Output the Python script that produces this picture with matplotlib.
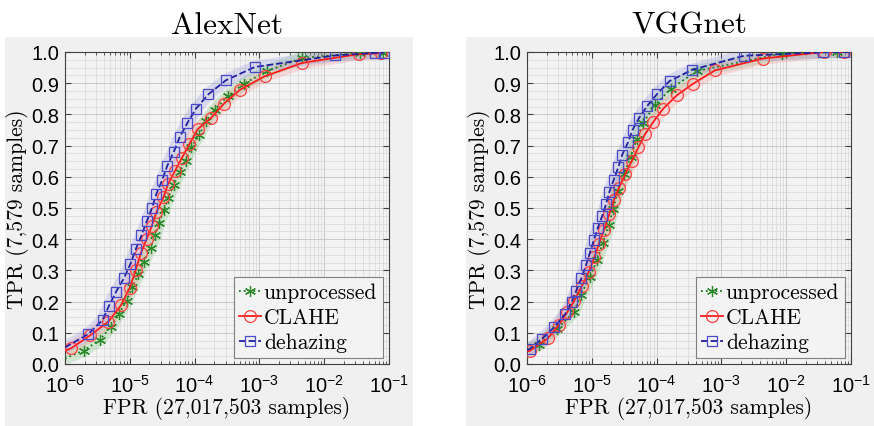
import matplotlib
matplotlib.use('Agg')
import matplotlib.pyplot as plt
from matplotlib.patches import Rectangle
from matplotlib.ticker import LogLocator, MultipleLocator, FixedLocator, NullFormatter

# ---- data (FPR as powers of ten exponent, TPR) ----
alex_unproc_exp = [-6.00, -5.71, -5.46, -5.29, -5.17, -5.05, -4.96, -4.87, -4.78, -4.68, -4.61, -4.55,
                   -4.47, -4.41, -4.32, -4.23, -4.14, -4.05, -3.93, -3.83, -3.69, -3.49, -3.24, -2.89,
                   -2.34, -1.45, -1.10]
alex_unproc_tpr = [0.018, 0.043, 0.078, 0.120, 0.160, 0.203, 0.246, 0.287, 0.328, 0.371, 0.412, 0.452,
                   0.492, 0.532, 0.574, 0.615, 0.652, 0.695, 0.733, 0.778, 0.815, 0.858, 0.898, 0.938,
                   0.981, 0.997, 0.998]
alex_clahe_exp = [-6.00, -5.91, -5.61, -5.33, -5.13, -5.00, -4.91, -4.83, -4.74, -4.66, -4.59, -4.48,
                  -4.41, -4.30, -4.20, -4.08, -3.95, -3.74, -3.55, -3.30, -2.92, -2.34, -1.47, -1.12]
alex_clahe_tpr = [0.043, 0.050, 0.092, 0.136, 0.190, 0.245, 0.300, 0.355, 0.400, 0.443, 0.486, 0.534,
                  0.577, 0.620, 0.659, 0.705, 0.753, 0.790, 0.834, 0.879, 0.922, 0.965, 0.993, 0.996]
alex_dehaze_exp = [-6.00, -5.64, -5.42, -5.32, -5.21, -5.09, -4.99, -4.91, -4.82, -4.74, -4.66, -4.59,
                   -4.50, -4.42, -4.32, -4.23, -4.11, -3.98, -3.79, -3.52, -3.07, -1.83, -1.22, -1.08]
alex_dehaze_tpr = [0.053, 0.096, 0.141, 0.187, 0.232, 0.275, 0.321, 0.367, 0.412, 0.457, 0.499, 0.545,
                   0.590, 0.636, 0.681, 0.727, 0.773, 0.818, 0.864, 0.909, 0.952, 0.989, 0.997, 0.998]

vgg_unproc_exp = [-6.00, -5.82, -5.54, -5.28, -5.17, -5.03, -4.92, -4.83, -4.74, -4.67, -4.60, -4.50,
                  -4.40, -4.30, -4.21, -4.03, -3.78, -3.38, -2.07, -1.22, -1.00]
vgg_unproc_tpr = [0.046, 0.062, 0.112, 0.166, 0.221, 0.278, 0.332, 0.388, 0.444, 0.497, 0.553, 0.610,
                  0.665, 0.722, 0.772, 0.829, 0.882, 0.939, 0.995, 1.000, 1.000]
vgg_clahe_exp = [-6.00, -5.95, -5.68, -5.51, -5.38, -5.27, -5.15, -5.05, -4.96, -4.89, -4.81, -4.73,
                 -4.66, -4.58, -4.48, -4.38, -4.28, -4.18, -4.05, -3.90, -3.69, -3.44, -3.10, -2.36,
                 -1.42, -1.11, -1.00]
vgg_clahe_tpr = [0.040, 0.043, 0.082, 0.125, 0.166, 0.203, 0.251, 0.294, 0.342, 0.385, 0.430, 0.480,
                 0.525, 0.565, 0.610, 0.652, 0.695, 0.736, 0.776, 0.818, 0.861, 0.898, 0.941, 0.979,
                 1.000, 1.000, 1.000]
vgg_dehaze_exp = [-6.00, -5.96, -5.77, -5.58, -5.41, -5.31, -5.24, -5.16, -5.09, -5.03, -4.97, -4.91,
                  -4.84, -4.78, -4.73, -4.66, -4.59, -4.53, -4.44, -4.37, -4.27, -4.15, -3.99, -3.80,
                  -3.45, -2.65, -1.43, -1.11, -1.00]
vgg_dehaze_tpr = [0.045, 0.048, 0.080, 0.118, 0.160, 0.200, 0.235, 0.275, 0.316, 0.356, 0.396, 0.435,
                  0.474, 0.513, 0.551, 0.591, 0.631, 0.671, 0.711, 0.751, 0.789, 0.826, 0.866, 0.907,
                  0.943, 0.988, 0.999, 1.000, 1.000]

titles = ['AlexNet', 'VGGnet']
series_names = ['unprocessed', 'CLAHE', 'dehazing']
xlabel = 'FPR (27,017,503 samples)'
ylabel = 'TPR (7,579 samples)'
xtick_exp = [-6, -5, -4, -3, -2, -1]
ytick_vals = [0.0, 0.1, 0.2, 0.3, 0.4, 0.5, 0.6, 0.7, 0.8, 0.9, 1.0]

panels = [
    [(alex_unproc_exp, alex_unproc_tpr), (alex_clahe_exp, alex_clahe_tpr), (alex_dehaze_exp, alex_dehaze_tpr)],
    [(vgg_unproc_exp, vgg_unproc_tpr), (vgg_clahe_exp, vgg_clahe_tpr), (vgg_dehaze_exp, vgg_dehaze_tpr)],
]

styles = [
    dict(color='#1a7a1a', ls=':', marker=(6, 2, 0), mec='#2a8a2a', mfc='none', ms=8, band='#5cb85c'),
    dict(color='#ff1a1a', ls='-', marker='o', mec='#ff4040', mfc='none', ms=8.5, band='#ff8080'),
    dict(color='#2020a0', ls='--', marker='s', mec='#4a4ac8', mfc='none', ms=7, band='#8080e0'),
]

serif = 'cmr10'
sans = 'Liberation Sans'

fig = plt.figure(figsize=(8.74, 4.27), dpi=100, facecolor='white')

# gray MATLAB-style panels behind each axes
for x0 in [5 / 874, 466 / 874]:
    fig.patches.append(Rectangle((x0, 0), 408 / 874, 389 / 427, transform=fig.transFigure,
                                 facecolor='#f0f0f0', edgecolor='none', zorder=-10))

lefts = [65 / 874, 527 / 874]
for k, (left, data) in enumerate(zip(lefts, panels)):
    ax = fig.add_axes([left, 62 / 427, 324 / 874, 312 / 427])
    ax.set_zorder(1)
    ax.set_facecolor('#f3f3f3')
    ax.set_xscale('log')

    for (ex, tpr), st, name in zip(data, styles, series_names):
        fpr = [10.0 ** e for e in ex]
        # translucent confidence band
        ax.plot(fpr, tpr, color=st['band'], lw=9, alpha=0.22, solid_capstyle='butt', zorder=2)
        last = len(fpr) - 1 if ex[-1] >= -1.0 else len(fpr)
        ax.plot(fpr, tpr, color=st['color'], ls=st['ls'], lw=1.3, marker=st['marker'],
                mec=st['mec'], mfc=st['mfc'], ms=st['ms'], mew=0.9,
                markevery=list(range(1, last)), label=name, zorder=3)

    ax.set_xlim(1e-6, 1e-1)
    ax.set_ylim(0, 1)
    ax.xaxis.set_major_locator(FixedLocator([10.0 ** e for e in xtick_exp]))
    ax.set_xticklabels(['10$^{\\mathregular{%d}}$' % e for e in xtick_exp], fontfamily=sans, fontsize=14.5)
    ax.xaxis.set_minor_locator(LogLocator(base=10, subs=range(2, 10), numticks=20))
    ax.xaxis.set_minor_formatter(NullFormatter())
    ax.set_yticks(ytick_vals)
    ax.set_yticklabels(['%.1f' % v for v in ytick_vals], fontfamily=sans, fontsize=14.5)
    ax.yaxis.set_minor_locator(MultipleLocator(0.025))

    ax.grid(True, which='major', color='#c8c8c8', lw=0.7)
    ax.grid(True, which='minor', color='#dcdcdc', lw=0.6)
    ax.set_axisbelow(True)
    ax.tick_params(which='both', direction='in', top=True, right=True, color='#404040')
    ax.tick_params(which='major', length=4)
    ax.tick_params(axis='x', which='major', pad=7)
    ax.tick_params(axis='y', which='major', pad=4)
    ax.tick_params(which='minor', length=2.5)
    ax.tick_params(axis='y', which='minor', length=0)
    for sp in ax.spines.values():
        sp.set_color('#404040')
        sp.set_linewidth(0.8)

    ax.set_title(titles[k], fontfamily=serif, fontsize=22.5, pad=14)
    ax.set_xlabel(xlabel, fontfamily=serif, fontsize=15.5, labelpad=0)
    ax.set_ylabel(ylabel, fontfamily=serif, fontsize=15.5, labelpad=2)

    leg = ax.legend(loc='lower right', prop={'family': serif, 'size': 15.5}, fancybox=False,
                    framealpha=1, facecolor='#f3f3f3', edgecolor='#808080', handlelength=1.0,
                    handletextpad=0.15, borderpad=0.25, labelspacing=0.25, borderaxespad=0.3)
    leg.get_frame().set_linewidth(0.8)

fig.savefig('out.png', dpi=100, facecolor='white')
